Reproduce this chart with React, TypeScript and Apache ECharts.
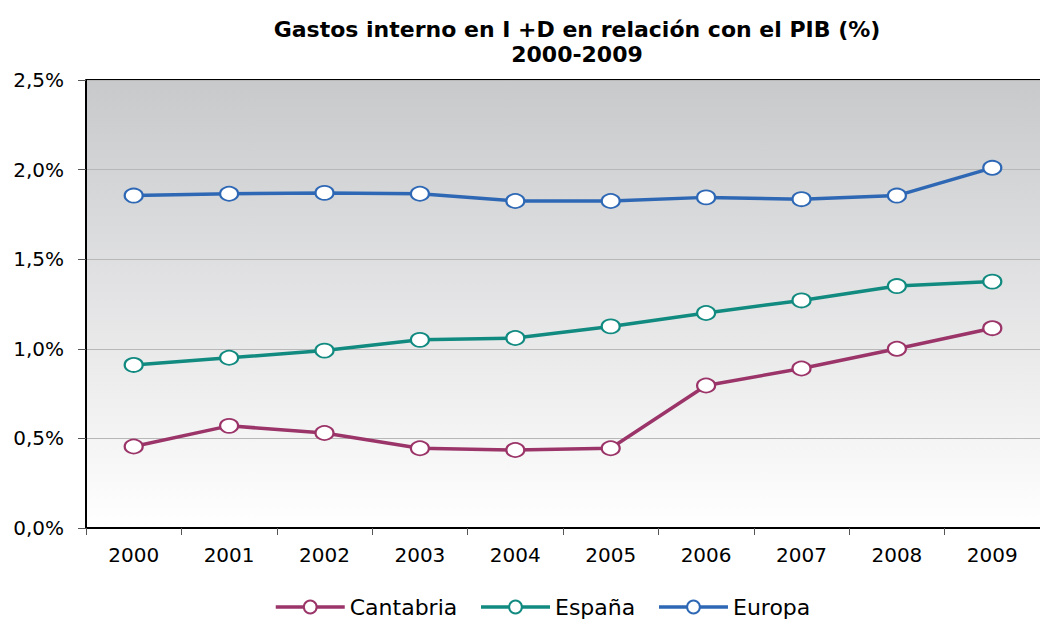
import React, { useEffect, useRef } from "react";
import * as echarts from "echarts";

const years = ["2000", "2001", "2002", "2003", "2004", "2005", "2006", "2007", "2008", "2009"];
const cantabria = [0.455, 0.57, 0.53, 0.445, 0.435, 0.445, 0.795, 0.89, 1.0, 1.115];
const espana = [0.91, 0.95, 0.99, 1.05, 1.06, 1.125, 1.2, 1.27, 1.35, 1.375];
const europa = [1.855, 1.865, 1.87, 1.865, 1.825, 1.825, 1.845, 1.835, 1.855, 2.01];
const yTicks = { min: 0, max: 2.5, interval: 0.5 };

const colors = { cantabria: "#9b3468", espana: "#118a80", europa: "#2e68b5" };

export default function App() {
  const ref = useRef<HTMLDivElement>(null);
  useEffect(() => {
    const chart = echarts.init(ref.current!, null, { renderer: "svg" });
    const font = "'DejaVu Sans', sans-serif";
    const mk = (name: string, data: number[], color: string) => ({
      name,
      type: "line",
      data,
      symbol: "circle",
      symbolSize: [18, 14],
      lineStyle: { color, width: 3.5 },
      itemStyle: { color: "#ffffff", borderColor: color, borderWidth: 2 },
      emphasis: { disabled: true },
    });
    chart.setOption({
      animation: false,
      title: {
        text: "Gastos interno en I +D en relación con el PIB (%)\n2000-2009",
        left: 572,
        top: 12,
        textAlign: "center",
        textStyle: { fontFamily: font, fontSize: 22, fontWeight: "bold", color: "#000", lineHeight: 25 },
      },
      legend: {
        top: 596,
        left: 274,
        padding: 0,
        itemWidth: 69,
        itemHeight: 16,
        itemGap: 22,
        lineStyle: { width: 3.5 },
        textStyle: { fontFamily: font, fontSize: 22, color: "#000", lineHeight: 20 },
        data: ["Cantabria", "España", "Europa"],
      },
      grid: { left: 86, right: -10, top: 80, bottom: 91, show: true, borderWidth: 0,
        backgroundColor: {
          type: "linear", x: 0, y: 0, x2: 0, y2: 1,
          colorStops: [{ offset: 0, color: "#c8c9cb" }, { offset: 1, color: "#ffffff" }],
        } },
      xAxis: {
        type: "category",
        data: years,
        boundaryGap: true,
        axisLine: { lineStyle: { color: "#000", width: 2 } },
        axisTick: { show: true, length: 7, lineStyle: { color: "#555", width: 1 } },
        axisLabel: { fontFamily: font, fontSize: 20, color: "#000", margin: 17 },
      },
      yAxis: {
        type: "value",
        min: yTicks.min,
        max: yTicks.max,
        interval: yTicks.interval,
        axisLine: { show: true, lineStyle: { color: "#000", width: 2 } },
        axisTick: { show: true, length: 8, lineStyle: { color: "#555", width: 1 } },
        splitLine: { lineStyle: { color: "#b8b8b8", width: 1 } },
        axisLabel: {
          fontFamily: font, fontSize: 20, color: "#000", margin: 22,
          formatter: (v: number) => v.toFixed(1).replace(".", ",") + "%",
        },
      },
      graphic: [
        { type: "line", shape: { x1: 86, y1: 80, x2: 1040, y2: 80 }, style: { stroke: "#000", lineWidth: 2 } },
      ],
      series: [
        mk("Cantabria", cantabria, colors.cantabria),
        mk("España", espana, colors.espana),
        mk("Europa", europa, colors.europa),
      ],
    });
    return () => chart.dispose();
  }, []);
  return <div ref={ref} style={{ position: "fixed", left: 0, top: 0, width: 1040, height: 619, background: "#fff" }} />;
}
